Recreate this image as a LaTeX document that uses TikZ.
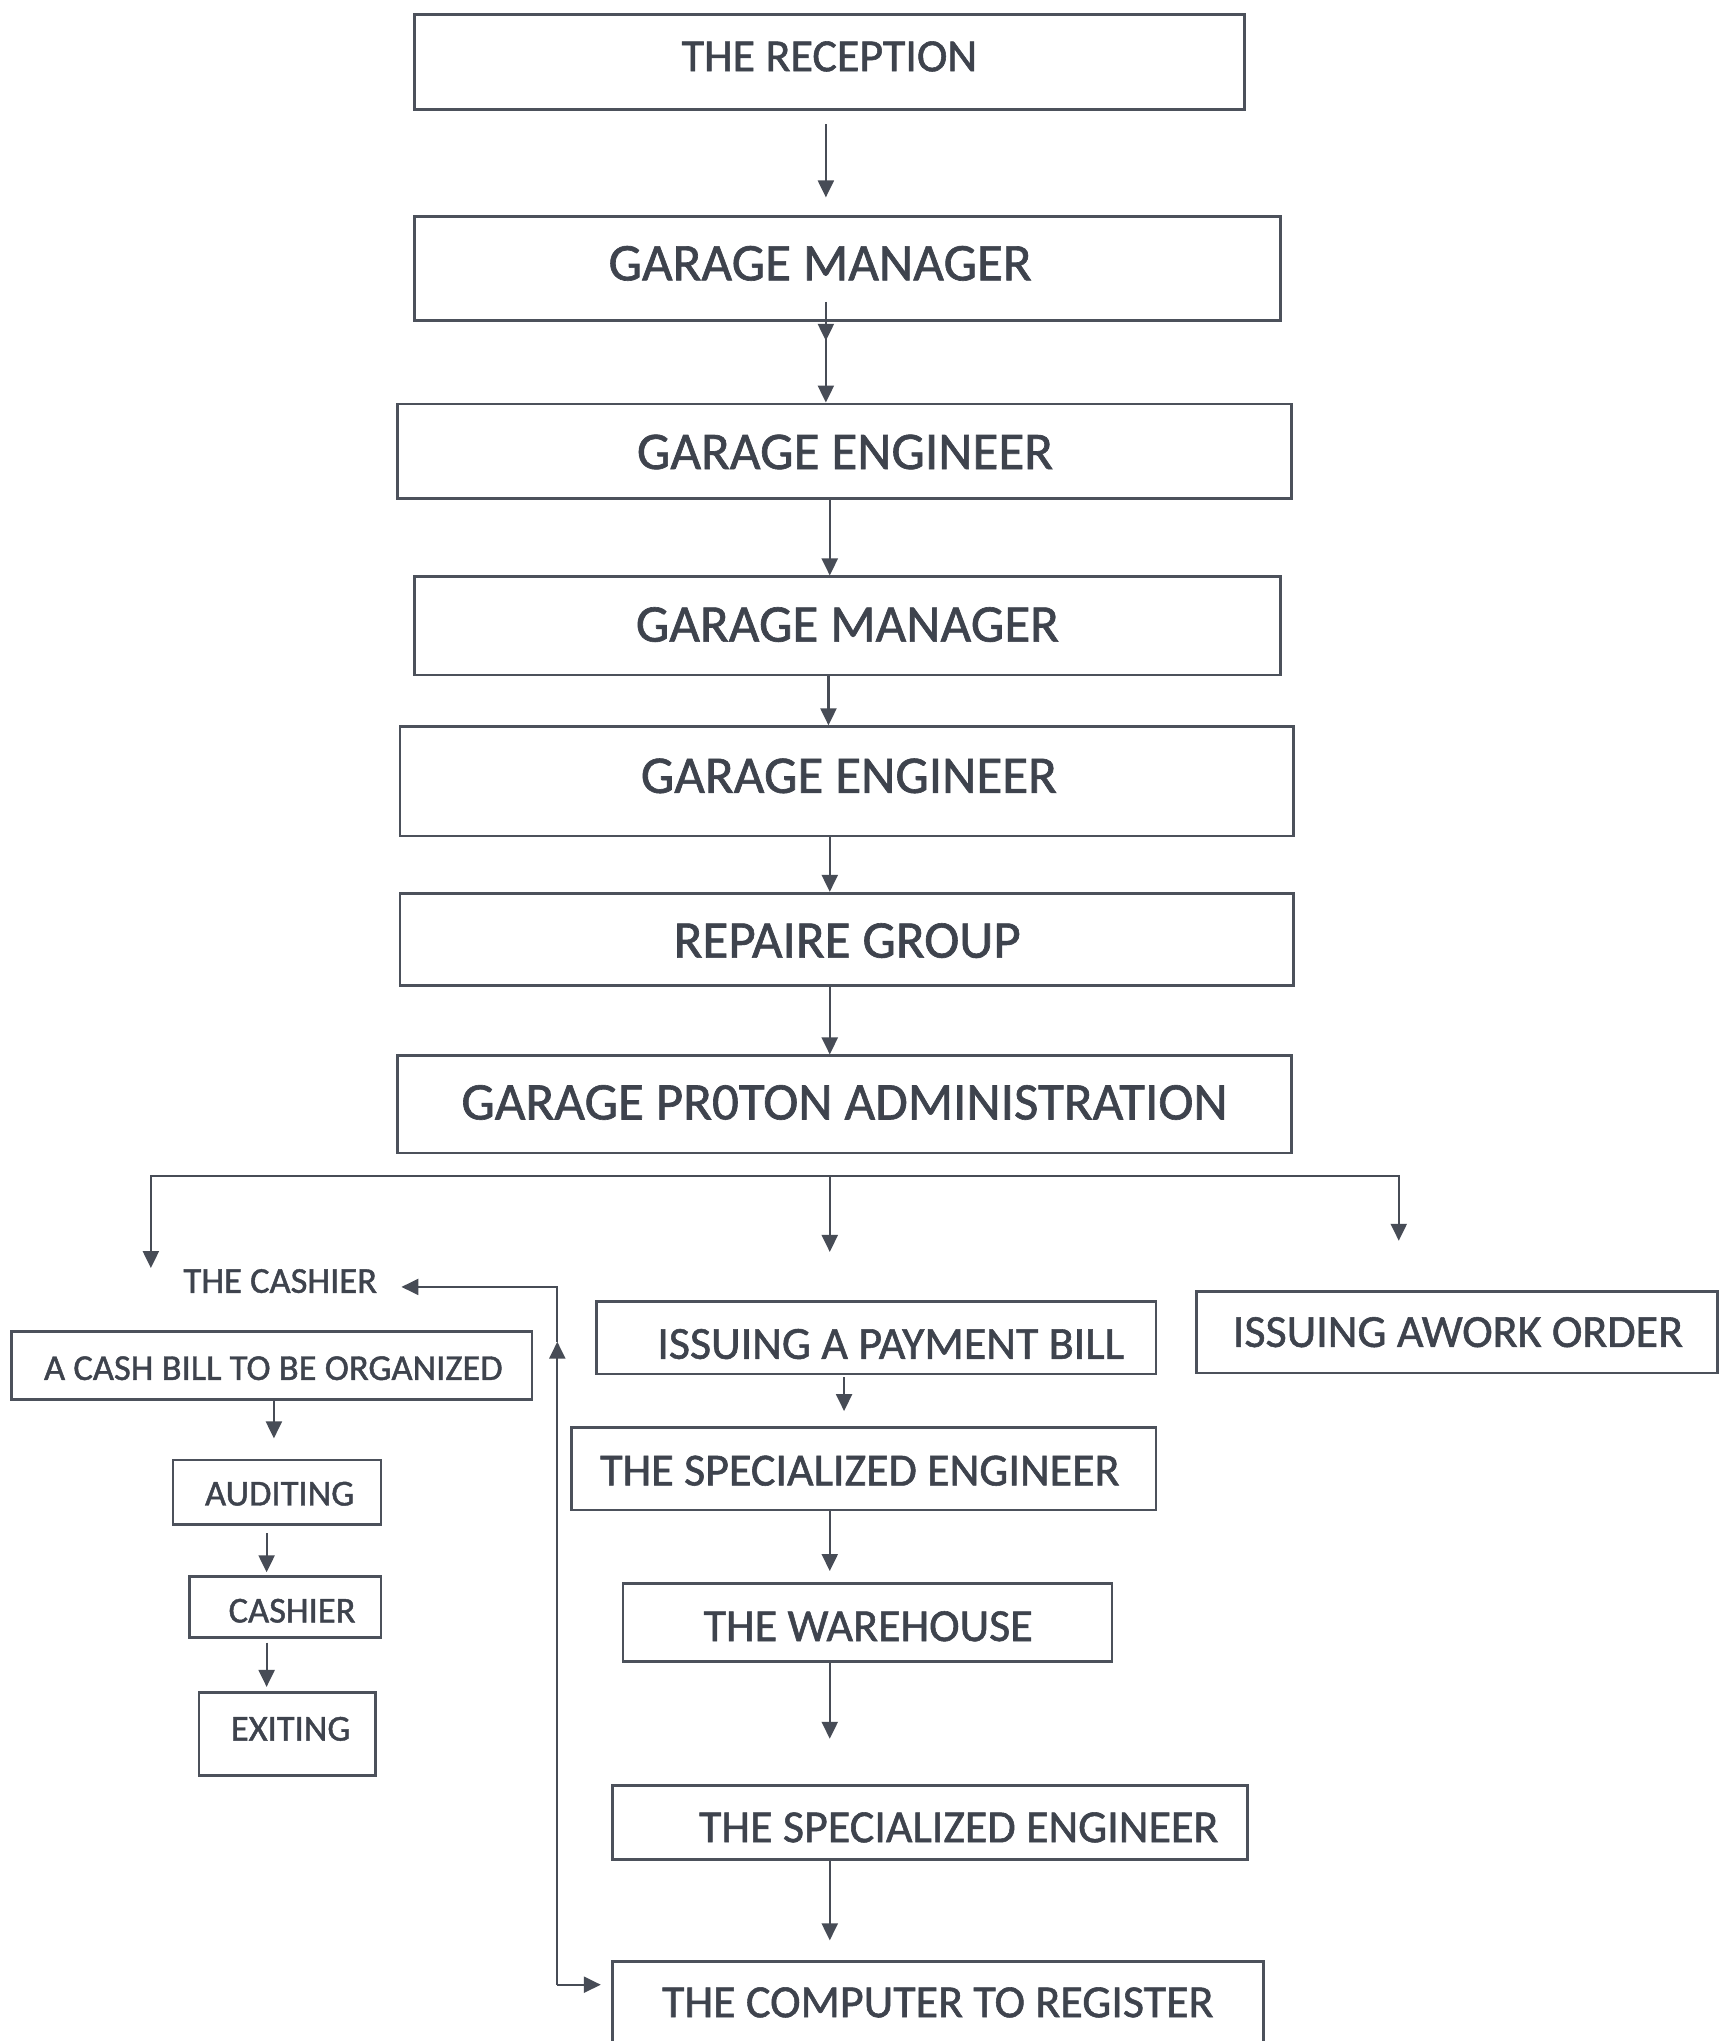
\documentclass[tikz,border=0pt]{standalone}
\usepackage{fontspec}
\setmainfont{Carlito}[FakeBold=1.2]
\usetikzlibrary{arrows.meta}
\definecolor{txtc}{HTML}{3E434D}
\definecolor{boxc}{HTML}{4C515B}
\definecolor{arrc}{HTML}{474C56}
\newcommand{\fbig}{\fontsize{53}{60}\selectfont}
\newcommand{\fmid}{\fontsize{46}{52}\selectfont}
\newcommand{\fsml}{\fontsize{36.5}{42}\selectfont}
\begin{document}
\begin{tikzpicture}[x=1.3006pt,y=-1.3006pt,
  box/.style={draw=boxc,line width=2.8pt,rectangle,inner sep=0pt},
  lbl/.style={text=txtc,inner sep=0pt},
  arr/.style={draw=arrc,line width=2.2pt,-{Triangle[length=17pt,width=16pt]}},
  plain/.style={draw=arrc,line width=2.2pt,line cap=rect}]
\useasboundingbox (0,0) rectangle (1324,1569.3);
\fill[white] (0,0) rectangle (1324,1569.3);
\clip (0,0) rectangle (1324,1569.3);

% main column
\node[box,minimum width=830.4pt,minimum height=94.6pt,
  label={[lbl,font=\fmid,yshift=5.6pt]center:THE RECEPTION}] (rec) at (637.7,47.7) {};
\node[box,minimum width=866.2pt,minimum height=104pt,
  label={[lbl,font=\fbig,xshift=-27.3pt,yshift=5.2pt]center:GARAGE MANAGER}] (gm1) at (651.5,206.5) {};
\node[box,minimum width=893.3pt,minimum height=94.7pt,
  label={[lbl,font=\fbig,xshift=0.5pt,yshift=-0.7pt]center:GARAGE ENGINEER}] (ge1) at (649.3,347) {};
\node[box,minimum width=866.2pt,minimum height=98.2pt,
  label={[lbl,font=\fbig,yshift=1.4pt]center:GARAGE MANAGER}] (gm2) at (651.5,481.3) {};
\node[box,minimum width=893.5pt,minimum height=109.3pt,
  label={[lbl,font=\fbig,xshift=2.2pt,yshift=5.5pt]center:GARAGE ENGINEER}] (ge2) at (651,600.8) {};
\node[box,minimum width=893.5pt,minimum height=92.3pt,
  label={[lbl,font=\fbig,xshift=0.5pt,yshift=-1.2pt]center:REPAIRE GROUP}] (rg) at (651,722.3) {};
\node[box,minimum width=893.3pt,minimum height=97.2pt,
  label={[lbl,font=\fbig,yshift=2pt]center:GARAGE PR0TON ADMINISTRATION}] (gpa) at (649.3,849.2) {};

% left branch
\node[lbl,font=\fsml] (cashier) at (215.5,985) {THE CASHIER};
\node[box,minimum width=520.5pt,minimum height=67.6pt,
  label={[lbl,font=\fsml,xshift=1.7pt,yshift=-2.6pt]center:A CASH BILL TO BE ORGANIZED}] (cashbill) at (208.9,1050) {};
\node[box,minimum width=208.1pt,minimum height=64.2pt,
  label={[lbl,font=\fsml,xshift=2.6pt,yshift=-1.6pt]center:AUDITING}] (auditing) at (213,1147.3) {};
\node[box,minimum width=191.2pt,minimum height=61.1pt,
  label={[lbl,font=\fsml,xshift=6.6pt,yshift=-3.9pt]center:CASHIER}] (cashier2) at (219.5,1235.5) {};
\node[box,minimum width=176.2pt,minimum height=82.6pt,
  label={[lbl,font=\fsml,xshift=3.5pt,yshift=5.2pt]center:EXITING}] (exiting) at (220.8,1333.3) {};

% middle branch
\node[box,minimum width=559.3pt,minimum height=72.8pt,
  label={[lbl,font=\fmid,xshift=14.3pt,yshift=-6.4pt]center:ISSUING A PAYMENT BILL}] (paybill) at (673.8,1028.5) {};
\node[box,minimum width=584.5pt,minimum height=82.2pt,
  label={[lbl,font=\fmid,xshift=-3.8pt,yshift=-1.8pt]center:THE SPECIALIZED ENGINEER}] (spec1) at (664.1,1129.4) {};
\node[box,minimum width=489pt,minimum height=78.3pt,
  label={[lbl,font=\fmid,xshift=0.7pt,yshift=-3.8pt]center:THE WAREHOUSE}] (ware) at (667,1247.5) {};
\node[box,minimum width=635.1pt,minimum height=74.1pt,
  label={[lbl,font=\fmid,xshift=29.1pt,yshift=-4.9pt]center:THE SPECIALIZED ENGINEER}] (spec2) at (714.8,1401.3) {};
\node[box,minimum width=651.3pt,minimum height=119.7pt,
  label={[lbl,font=\fmid,yshift=18.7pt]center:THE COMPUTER TO REGISTER}] (comp) at (721.1,1554) {};

% right branch
\node[box,minimum width=521pt,minimum height=81.4pt,
  label={[lbl,font=\fmid,xshift=0.9pt]center:ISSUING AWORK ORDER}] (work) at (1120.3,1024.3) {};

% main column connectors
\draw[arr,shorten <=13.6pt,shorten >=17.8pt] (rec.south -| 635,0) -- (gm1.north -| 635,0);
\draw[arr] (gm1.south -| 635,0) ++(0,-15.5) -- ++(0,30);
\draw[arr] (gm1.south -| 635,0) -- (ge1.north -| 635,0);
\draw[arr] (ge1.south -| 638,0) -- (gm2.north -| 638,0);
\draw[arr] (gm2.south -| 637,0) -- (ge2.north -| 637,0);
\draw[arr] (ge2.south -| 638,0) -- (rg.north -| 638,0);
\draw[arr] (rg.south -| 638,0) -- (gpa.north -| 638,0);

% distribution bus
\coordinate (busL) at (116,904.5);
\coordinate (busC) at (638,904.5);
\coordinate (busR) at (1075.5,904.5);
\coordinate (tipL) at (116,975);
\coordinate (tipC) at (638,962.6);
\coordinate (tipR) at (1075.5,954);
\draw[plain] (busL) -- (busR);
\draw[arr] (busL) -- (tipL);
\draw[arr] (busC) -- (tipC);
\draw[arr] (busR) -- (tipR);

% left column connectors
\draw[arr,shorten >=20.3pt] (cashbill.south -| 210.6,0) -- (auditing.north -| 210.6,0);
\draw[arr,shorten <=7.8pt,shorten >=2.6pt] (auditing.south -| 205,0) -- (cashier2.north -| 205,0);
\draw[arr,shorten <=3.9pt,shorten >=4.5pt] (cashier2.south -| 205,0) -- (exiting.north -| 205,0);

% middle column connectors
\draw[arr,shorten <=2pt,shorten >=15.3pt] (paybill.south -| 649,0) -- (spec1.north -| 649,0);
\draw[arr,shorten >=10.9pt] (spec1.south -| 638,0) -- (ware.north -| 638,0);
\draw[arr,shorten >=45.3pt] (ware.south -| 638,0) -- (spec2.north -| 638,0);
\draw[arr,shorten >=19.5pt] (spec2.south -| 638,0) -- (comp.north -| 638,0);

% feedback line
\coordinate (fbB) at (428.5,1526);
\coordinate (fbM) at (428.5,1031.6);
\coordinate (fbT) at (428.5,989.5);
\draw[arr,shorten >=10pt] (fbB) -- (comp.west |- fbB);
\draw[arr] (fbB) -- (fbM);
\draw[arr,shorten >=24.2pt] (fbM) -- (fbT) -- (cashier.east |- fbT);
\end{tikzpicture}
\end{document}
